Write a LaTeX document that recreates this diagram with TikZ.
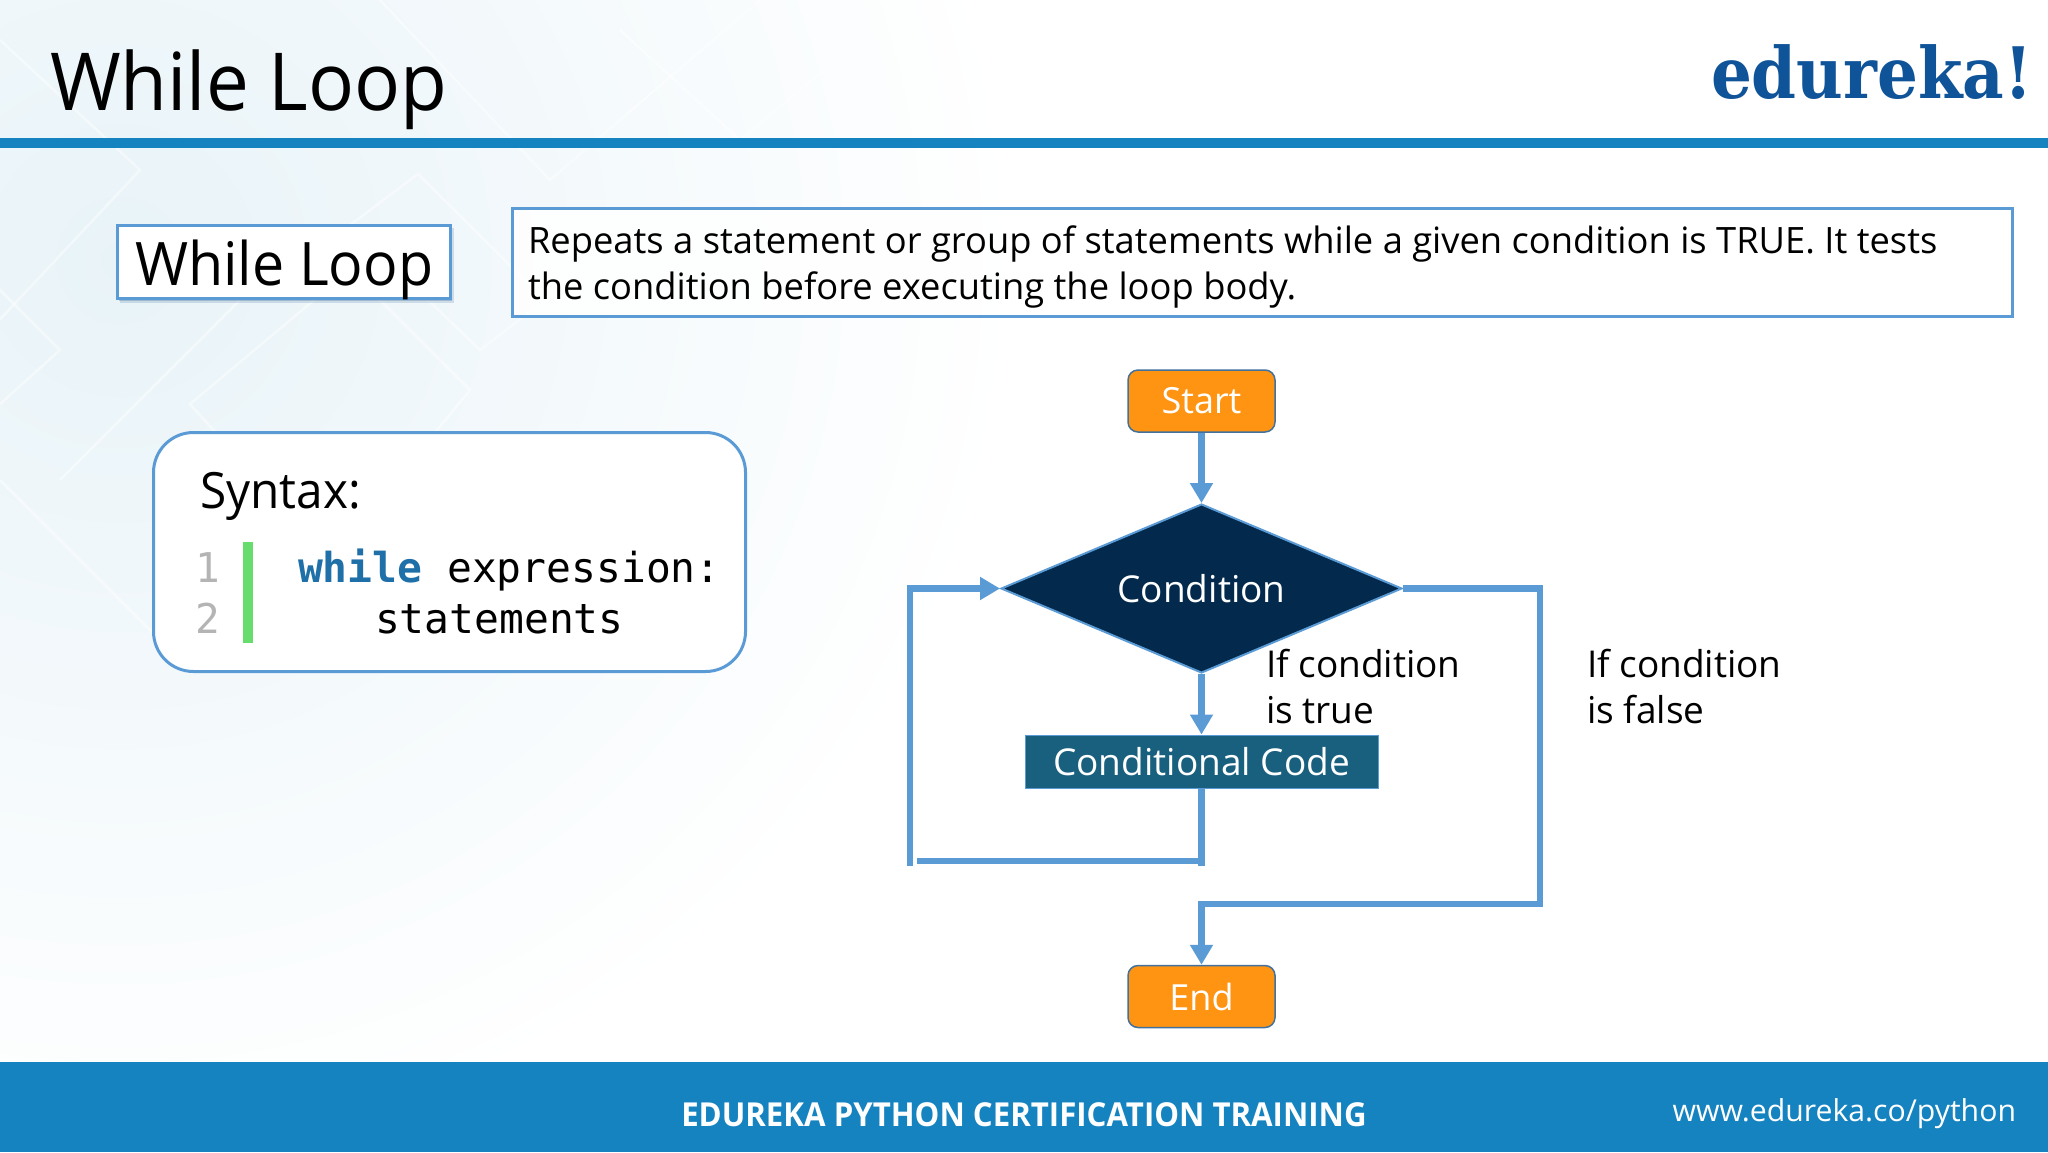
\documentclass[tikz,border=0pt]{standalone}
\usepackage{fontspec}
\setmainfont{Open Sans}
\newfontfamily\tight{Open Sans}[FakeStretch=0.955]
\newfontfamily\footfont{Open Sans}[FakeStretch=0.945]
\newfontfamily\codefont{DejaVu Sans Mono}
\newfontfamily\logofont{DejaVu Serif}[FakeStretch=0.905]
\usetikzlibrary{arrows.meta,shapes.geometric,calc}
\definecolor{linkblue}{HTML}{5B9BD5}
\definecolor{barblue}{HTML}{1583C0}
\definecolor{orangebox}{HTML}{FF9412}
\definecolor{navy}{HTML}{03294C}
\definecolor{teal}{HTML}{19607F}
\definecolor{bordergrey}{HTML}{41719C}
\definecolor{logoblue}{HTML}{0F5499}
\definecolor{kw}{HTML}{1F6FA8}
\definecolor{lnum}{HTML}{B4B4B4}
\definecolor{greenbar}{HTML}{66DD6C}
\definecolor{bgtint}{HTML}{E8F3F8}
\definecolor{bgshade}{HTML}{B8D4E3}
\tikzset{
  link/.style={draw=linkblue,line width=6.5pt},
  arrowlink/.style={link,-{Triangle[length=20pt,width=22pt]}},
  termbox/.style={draw=bordergrey,line width=1.5pt,fill=orangebox,rounded corners=10pt,minimum width=147pt,minimum height=62pt,inner sep=0pt,text=white,font=\fontsize{36}{44}\selectfont},
  txt/.style={anchor=base west,inner sep=0pt,outer sep=0pt},
  faint/.style={draw=white,opacity=.45,line width=2.5pt},
}
\begin{document}
\begin{tikzpicture}[x=1pt,y=-1pt]
\useasboundingbox (0,0) rectangle (2048,1152);
% background
\fill[white] (0,0) rectangle (2048,1152);
\begin{scope}
\clip (0,0) rectangle (2048,1152);
\shade[inner color=bgtint,outer color=white] (120,260) circle (900);
\fill[white,opacity=.5] (1250,-50) rectangle (2100,1200);
\fill[bgshade,opacity=.12] (318,225) -- (345,252) -- (318,278) -- (292,252) -- cycle;
\draw[faint] (418,174) -- (545,300) -- (480,350) -- (350,225) -- cycle;
\draw[faint] (190,404) -- (350,270) -- (470,390) -- (330,560) -- cycle;
\draw[faint] (0,404) -- (60,350) -- (-40,250);
\draw[faint] (0,40) -- (140,170) -- (-10,330);
\draw[faint] (380,0) -- (550,180) -- (760,0);
\draw[faint] (900,0) -- (1080,150) -- (1200,0);
\draw[faint] (620,30) -- (740,140) -- (860,40);
\draw[faint] (0,480) -- (160,640);
\draw[faint] (240,300) -- (60,480);
\end{scope}
% header & footer
\fill[barblue] (0,138) rectangle (2048,148);
\fill[barblue] (0,1062) rectangle (2048,1152);
\node[txt,font=\tight\fontsize{80}{96}\selectfont] (title) at (50,110) {While Loop};
\node[txt,font=\logofont\bfseries\fontsize{71}{80}\selectfont,text=logoblue] (logo) at (1711,98) {edureka!};
\node[txt,font=\footfont\bfseries\fontsize{33}{40}\selectfont,text=white,anchor=base] (foot) at (1024,1126) {EDUREKA PYTHON CERTIFICATION TRAINING};
\node[txt,font=\fontsize{30.2}{38}\selectfont,text=white,anchor=base east] (url) at (2016,1121) {www.edureka.co/python};
% heading box with shadow
\fill[bordergrey,opacity=.2] (120,228) rectangle (454,303);
\fill[bordergrey,opacity=.3] (119,227) rectangle (452,301);
\node[draw=linkblue,line width=2.5pt,fill=white,minimum width=333pt,minimum height=73pt,inner sep=0pt,anchor=north west] (headbox) at (116,224) {};
\node[txt,font=\tight\fontsize{60}{72}\selectfont] (headtxt) at (135,285) {While Loop};
% description
\node[draw=linkblue,line width=3pt,fill=white,fill opacity=.85,minimum width=1500pt,minimum height=108pt,inner sep=0pt,anchor=north west] (descbox) at (511,207) {};
\node[txt,font=\fontsize{36.3}{47}\selectfont] (d1) at (528,253) {Repeats a statement or group of statements while a given condition is TRUE. It tests};
\node[txt,font=\fontsize{36.3}{47}\selectfont] (d2) at (528,299) {the condition before executing the loop body.};
% syntax box
\node[draw=linkblue,line width=3pt,fill=white,rounded corners=40pt,minimum width=592pt,minimum height=239pt,inner sep=0pt,anchor=north west] (synbox) at (152,431) {};
\node[txt,font=\tight\fontsize{50}{60}\selectfont] (syntax) at (200,508) {Syntax:};
\node[txt,font=\codefont\fontsize{41}{48}\selectfont,text=lnum] (n1) at (195,582) {1};
\node[txt,font=\codefont\fontsize{41}{48}\selectfont,text=lnum] (n2) at (195,633) {2};
\fill[greenbar] (243,542) rectangle (253,643);
\node[txt,font=\codefont\fontsize{41.3}{48}\selectfont] (c1) at (298,582) {\textcolor{kw}{\bfseries while} expression:};
\node[txt,font=\codefont\fontsize{41.3}{48}\selectfont] (c2) at (375,633) {statements};
% flowchart
\node[termbox] (start) at (1201.5,401) {\raisebox{-1pt}{Start}};
\node[termbox] (stop) at (1201.5,996.5) {End};
\node[diamond,aspect=2.37,draw=linkblue,line width=2pt,fill=navy,minimum width=401pt,minimum height=169pt,inner sep=0pt,text=white,font=\fontsize{37}{44}\selectfont] (cond) at (1201.5,588.5) {Condition};
\node[fill=teal,draw=linkblue,line width=1pt,minimum width=353pt,minimum height=53pt,inner sep=0pt,text=white,font=\fontsize{37}{44}\selectfont] (code) at (1201.5,761.5) {Conditional Code};
\coordinate (hstart) at (917,861);
\coordinate (vend) at (1201.5,866);
\coordinate (vstart) at (910,866);
\coordinate (rbot) at (1540,904);
\draw[arrowlink] (start) -- (cond);
\draw[arrowlink] (cond) -- (code);
\draw[link] (code) -- (vend);
\draw[link] (vend |- hstart) -- (hstart);
\draw[arrowlink] (vstart) |- (cond.west);
\draw[arrowlink] (cond.east) -| (rbot) -| (stop.north);
\node[txt,font=\fontsize{37}{46}\selectfont] (t1) at (1266,677) {If condition};
\node[txt,font=\fontsize{37}{46}\selectfont] (t2) at (1266,723) {is true};
\node[txt,font=\fontsize{37}{46}\selectfont] (f1) at (1587,677) {If condition};
\node[txt,font=\fontsize{37}{46}\selectfont] (f2) at (1587,723) {is false};
\end{tikzpicture}
\end{document}
